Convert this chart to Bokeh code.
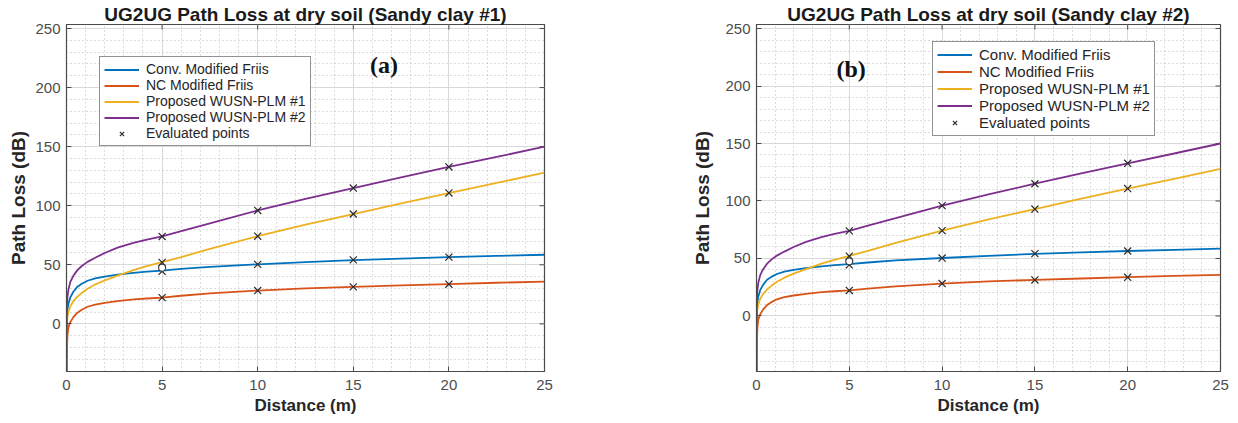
import math
from bokeh.plotting import figure
from bokeh.models import (Range1d, SingleIntervalTicker, Legend, LegendItem, Label)
from bokeh.layouts import row
from bokeh.embed import file_html
from bokeh.resources import INLINE

# ---------------- data ----------------
distance = [0, 0.02, 0.05, 0.1, 0.2, 0.35, 0.57, 0.8, 1.1, 1.5, 2, 2.67, 3.5,
            4.2, 5, 6, 7.5, 10, 12.5, 15, 17.5, 20, 22.5, 25]
conv_friis = [-60, 5, 12, 17, 22.5, 27, 31.5, 34, 36.5, 38.5, 40, 41.7, 43.2,
              44.2, 45, 46.5, 48.3, 50.4, 52.3, 54, 55.3, 56.5, 57.5, 58.5]
nc_friis = [-60, -22, -10, -3, 1.5, 5.5, 9.5, 12, 14.5, 16.3, 17.8, 19.3, 20.7,
            21.5, 22.3, 23.8, 25.8, 28.2, 30, 31.4, 32.6, 33.7, 34.8, 35.8]
plm_1 = [-60, 0, 6, 10, 15, 19, 23, 26.2, 29.7, 33.3, 36.8, 40.8, 45.5,
         48.8, 52.3, 56.6, 63.5, 74.2, 84, 93, 102, 110.7, 119.3, 128]
plm_2 = [-60, 14, 23, 29, 35.5, 40.5, 45.5, 49, 52.5, 56, 60, 64.5, 68.5,
         71.3, 74, 78.5, 85, 96, 105.8, 115, 124, 132.8, 141.3, 150]

eval_distance = [5, 10, 15, 20]
eval_conv = [44.5, 50.4, 54.2, 56.5]
eval_nc = [22.2, 28.2, 31.3, 33.6]
eval_plm_1 = [52, 74.2, 93, 110.8]
eval_plm_2 = [74, 96, 115, 132.8]

circle_distance = [5]
circle_loss = [47.5]

series_names = ["Conv. Modified Friis", "NC Modified Friis",
                "Proposed WUSN-PLM #1", "Proposed WUSN-PLM #2"]
series_colors = ["#0072BD", "#D95319", "#EDB120", "#7E2F8E"]
x_tick_values = [0, 5, 10, 15, 20, 25]
y_tick_values = [0, 50, 100, 150, 200, 250]

FONT = "Liberation Sans"
AXIS_COLOR = "#4a4a4a"
TICK_LABEL_COLOR = "#4d4d4d"
TOP = 24
BOTTOM = 52


def make_panel(title, tag, tag_x, tag_y, y_lim, width, bl, br,
               leg_loc, leg_font, ylab_standoff):
    p = figure(width=width, height=423, x_range=Range1d(0, 25),
               y_range=Range1d(*y_lim), output_backend="svg",
               toolbar_location=None, min_border_left=bl, min_border_right=br,
               min_border_top=TOP, min_border_bottom=BOTTOM, title=title)
    p.title.text_font = FONT
    p.title.text_font_size = "19px"
    p.title.text_font_style = "bold"
    p.title.text_color = "#1a1a1a"
    p.title.align = "center"
    p.title.standoff = 0
    p.title.offset = 0
    p.background_fill_color = "white"
    p.border_fill_color = "white"
    p.outline_line_color = AXIS_COLOR
    p.outline_line_width = 1.2

    xt = SingleIntervalTicker(interval=5, num_minor_ticks=5)
    yt = SingleIntervalTicker(interval=50, num_minor_ticks=5)
    xa = p.xaxis[0]
    ya = p.yaxis[0]
    xa.ticker = xt
    ya.ticker = yt
    xa.axis_label = "Distance (m)"
    ya.axis_label = "Path Loss (dB)"
    for ax in (xa, ya):
        ax.axis_label_text_font = FONT
        ax.axis_label_text_font_style = "bold"
        ax.axis_label_text_color = "#262626"
        ax.major_label_text_font = FONT
        ax.major_label_text_font_size = "15px"
        ax.major_label_text_color = TICK_LABEL_COLOR
        ax.axis_line_color = AXIS_COLOR
        ax.major_tick_line_color = AXIS_COLOR
        ax.major_tick_in = 5
        ax.major_tick_out = 0
        ax.minor_tick_in = 0
        ax.minor_tick_out = 0
    xa.axis_label_text_font_size = "17px"
    ya.axis_label_text_font_size = "19px"
    xa.major_label_standoff = 8
    xa.axis_label_standoff = 3
    ya.major_label_standoff = 6
    ya.axis_label_standoff = ylab_standoff

    for g in (p.xgrid[0], p.ygrid[0]):
        g.grid_line_color = "#d9d9d9"
        g.grid_line_width = 1
        g.minor_grid_line_color = "#b8b8b8"
        g.minor_grid_line_dash = "1 3"
        g.minor_grid_line_width = 1

    # inward ticks on the top and right edges of the box
    p.ray(x=x_tick_values, y=[y_lim[1]] * len(x_tick_values), length=5,
          length_units="screen", angle=-math.pi / 2, line_color=AXIS_COLOR,
          line_width=1)
    p.ray(x=[25] * len(y_tick_values), y=y_tick_values, length=5,
          length_units="screen", angle=math.pi, line_color=AXIS_COLOR,
          line_width=1)

    items = []
    for ys, name, col in zip((conv_friis, nc_friis, plm_1, plm_2),
                             series_names, series_colors):
        r = p.line(distance, ys, line_color=col, line_width=1.8)
        items.append(LegendItem(label=name, renderers=[r]))
    ev = None
    for ys in (eval_conv, eval_nc, eval_plm_1, eval_plm_2):
        ev = p.scatter(eval_distance, ys, marker="x", size=10,
                       line_color="#2b2b2b", line_width=1.2)
    items.append(LegendItem(label="Evaluated points", renderers=[ev]))
    p.scatter(circle_distance, circle_loss, marker="circle", size=7,
              fill_color="white", line_color="#3a3a3a", line_width=1.1)

    leg = Legend(items=items, location=leg_loc)
    leg.label_text_font = FONT
    leg.label_text_font_size = leg_font
    leg.label_text_color = "#262626"
    leg.label_height = 15
    leg.glyph_height = 15
    leg.glyph_width = 35
    leg.spacing = 0
    leg.padding = 4
    leg.margin = 0
    leg.label_standoff = 7
    leg.border_line_color = "#262626"
    leg.border_line_width = 1
    leg.background_fill_alpha = 1
    p.add_layout(leg, "center")

    p.add_layout(Label(x=tag_x, y=tag_y, text=tag, text_align="center",
                       text_baseline="middle", text_font="Liberation Serif",
                       text_font_style="bold", text_font_size="24px",
                       text_color="#111111"))
    return p


p1 = make_panel("UG2UG Path Loss at dry soil (Sandy clay #1)", "(a)", 16.6, 219,
                (-40.3, 253.4), 620, 66, 76, (33, 225), "14px", 3)
p2 = make_panel("UG2UG Path Loss at dry soil (Sandy clay #2)", "(b)", 5.1, 215,
                (-48.3, 253.5), 618, 136, 18, (176, 235), "15px", 9)

layout = row(p1, p2)
open("out.html", "w").write(file_html(layout, INLINE))
